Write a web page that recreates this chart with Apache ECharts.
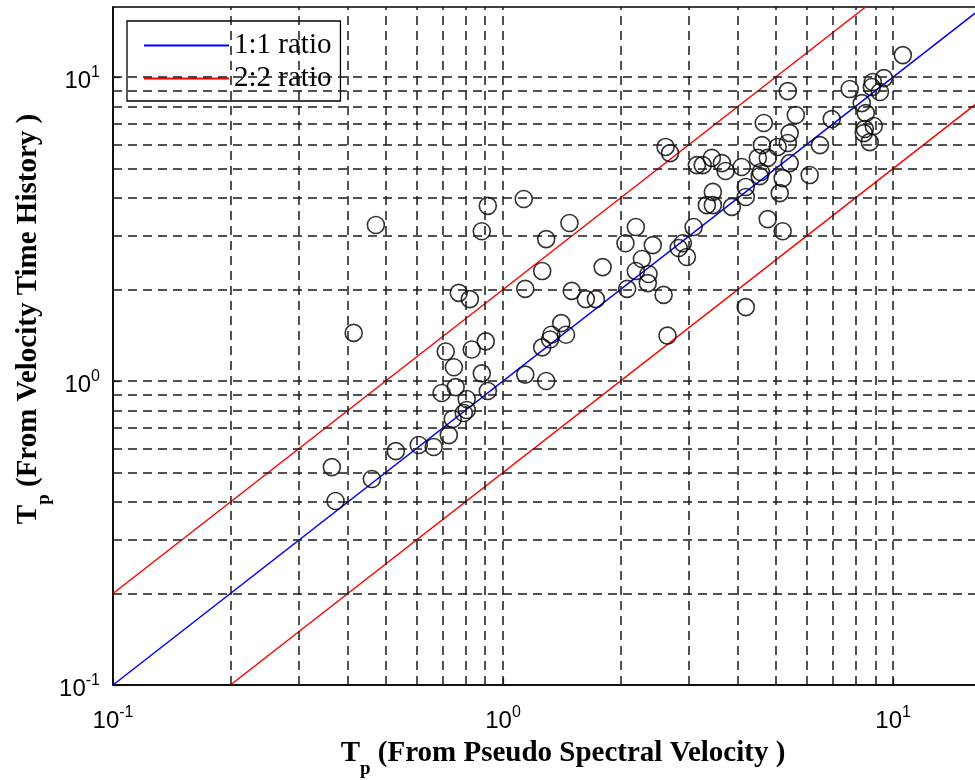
<!DOCTYPE html>
<html>
<head>
<meta charset="utf-8">
<title>Tp comparison</title>
<script src="https://cdn.jsdelivr.net/npm/echarts@6/dist/echarts.min.js"></script>
<style>
  html, body { margin: 0; padding: 0; background: #fff; }
  #chart { width: 975px; height: 780px; }
</style>
</head>
<body>
<div id="chart"></div>
<script>
// Peak period from the pseudo spectral velocity (x) and from the velocity time history (y)
const pseudoSpectralTp = [
  10.59, 9.47, 8.87, 8.82, 9.25, 7.74, 5.37, 8.31, 8.51, 5.63,
  6.96, 4.66, 8.92, 5.43, 8.46, 8.41, 8.71, 5.37, 4.61, 5.06,
  6.49, 2.61, 2.68, 3.43, 3.14, 3.25, 3.64, 3.72, 4.09, 4.50,
  4.77, 5.43, 4.58, 4.55, 6.11, 5.21, 4.19, 3.45, 5.12, 4.19,
  3.33, 3.45, 3.86, 4.77, 5.21, 3.08, 2.19, 2.06, 2.42, 2.89,
  2.82, 2.96, 2.27, 1.80, 2.19, 2.36, 2.35, 2.08, 2.58, 4.19,
  2.64, 0.914, 1.13, 0.472, 0.882, 1.48, 1.29, 1.26, 0.770, 0.822,
  1.14, 1.50, 1.63, 1.73, 0.414, 1.41, 1.33, 1.45, 1.32, 1.26,
  0.713, 0.831, 0.903, 0.748, 0.882, 1.14, 1.29, 0.756, 0.696, 0.914,
  0.807, 0.807, 0.793, 0.743, 0.726, 0.531, 0.608, 0.664, 0.364, 0.461,
  0.372
];
const velocityHistoryTp = [
  11.81, 9.92, 9.63, 9.27, 8.93, 9.13, 8.99, 8.21, 7.61, 7.50,
  7.27, 7.06, 6.90, 6.54, 6.75, 6.54, 6.11, 6.07, 5.97, 5.89,
  5.97, 5.89, 5.62, 5.42, 5.13, 5.13, 5.21, 4.91, 5.06, 5.42,
  5.42, 5.21, 4.87, 4.72, 4.76, 4.65, 4.35, 4.19, 4.15, 4.03,
  3.79, 3.79, 3.74, 3.41, 3.11, 3.21, 3.21, 2.84, 2.80, 2.84,
  2.74, 2.56, 2.52, 2.37, 2.30, 2.25, 2.10, 2.01, 1.92, 1.75,
  1.41, 3.77, 3.97, 3.26, 3.11, 3.31, 2.93, 2.30, 1.95, 1.86,
  2.01, 1.98, 1.86, 1.86, 1.44, 1.55, 1.42, 1.42, 1.37, 1.29,
  1.25, 1.27, 1.35, 1.11, 1.06, 1.05, 1.00, 0.955, 0.913, 0.927,
  0.873, 0.803, 0.785, 0.750, 0.664, 0.588, 0.616, 0.607, 0.521, 0.476,
  0.403
];

// Reference ratio lines (end points)
const oneToOneX = [0.1, 17];
const oneToOneY = [0.1, 17];
const upperRatioX = [0.1, 8.5];
const upperRatioY = [0.2, 17];
const lowerRatioX = [0.2, 17];
const lowerRatioY = [0.1, 8.5];

// Axis range, decade tick labels and dashed grid positions
const axisMin = 0.1;
const axisMax = 17;
const decadeTicks = [0.1, 1, 10];
const decadeExponents = ['-1', '0', '1'];
const gridValues = [0.2, 0.3, 0.4, 0.5, 0.6, 0.7, 0.8, 0.9, 1, 2, 3, 4, 5, 6, 7, 8, 9, 10];

const SANS = 'Liberation Sans, Arial, Helvetica, sans-serif';
const SERIF = 'Liberation Serif, Times New Roman, serif';

function zip(xs, ys) { return xs.map((x, i) => [x, ys[i]]); }

function decadeLabel(value) {
  for (let i = 0; i < decadeTicks.length; i++) {
    if (Math.abs(Math.log10(value) - Math.log10(decadeTicks[i])) < 1e-6) {
      return '{b|10}{e|' + decadeExponents[i] + '}';
    }
  }
  return '';
}

const powerRich = {
  b: { fontFamily: SANS, fontSize: 24, lineHeight: 24, color: '#000', verticalAlign: 'top', padding: [4, 0, 4, 0] },
  e: { fontFamily: SANS, fontSize: 16, lineHeight: 16, color: '#000', verticalAlign: 'top' }
};

const titleRich = {
  t: { fontFamily: SERIF, fontWeight: 'bold', fontSize: 29, lineHeight: 30, color: '#000', verticalAlign: 'top' },
  s: { fontFamily: SERIF, fontWeight: 'bold', fontSize: 19, lineHeight: 19, color: '#000', verticalAlign: 'top', padding: [21, 0, 0, 0] }
};

function logAxis(labelMargin) {
  return {
    type: 'log',
    logBase: 10,
    min: axisMin,
    max: axisMax,
    axisLine: { show: true, onZero: false, lineStyle: { color: '#000', width: 1.5 } },
    axisTick: { show: true, inside: true, length: 7, lineStyle: { color: '#000', width: 1.2 } },
    splitLine: { show: false },
    minorTick: { show: false },
    axisLabel: {
      formatter: decadeLabel,
      rich: powerRich,
      margin: labelMargin,
      showMinLabel: true,
      showMaxLabel: false
    }
  };
}

const chart = echarts.init(document.getElementById('chart'), null, { renderer: 'canvas' });

const dashed = { color: '#1a1a1a', width: 1.5, type: [9, 6] };

chart.setOption({
  animation: false,
  backgroundColor: '#fff',
  grid: {
    left: 113, top: 7, bottom: 95, right: -8,
    outerBoundsMode: 'none',
    show: true, borderColor: '#000', borderWidth: 1.5, backgroundColor: 'transparent'
  },
  xAxis: logAxis(20),
  yAxis: logAxis(13),
  legend: {
    left: 127, top: 21,
    orient: 'vertical',
    data: ['1:1 ratio', '2:2 ratio'],
    backgroundColor: '#fff',
    borderColor: '#000',
    borderWidth: 1.3,
    borderRadius: 0,
    padding: [10, 9, 8, 16],
    itemWidth: 85,
    itemHeight: 14,
    itemGap: 4,
    selectedMode: false,
    itemStyle: { opacity: 0 },
    textStyle: { fontFamily: SERIF, fontSize: 29, lineHeight: 29, color: '#000' }
  },
  graphic: [
    {
      type: 'text', x: 563, y: 754, silent: true,
      style: {
        text: '{t|T}{s|p}{t| (From Pseudo Spectral Velocity )}',
        rich: titleRich, align: 'center', verticalAlign: 'middle'
      }
    },
    {
      type: 'text', x: 29, y: 319, rotation: Math.PI / 2, silent: true,
      style: {
        text: '{t|T}{s|p}{t| (From Velocity Time History )}',
        rich: titleRich, align: 'center', verticalAlign: 'middle'
      }
    }
  ],
  series: [
    {
      name: '1:1 ratio',
      type: 'line',
      data: zip(oneToOneX, oneToOneY),
      symbol: 'none',
      itemStyle: { color: '#0000ff' },
      lineStyle: { color: '#0000ff', width: 1.5 },
      silent: true,
      z: 3,
      markLine: {
        silent: true,
        symbol: ['none', 'none'],
        label: { show: false },
        lineStyle: dashed,
        emphasis: { disabled: true },
        data: gridValues.map(v => ({ xAxis: v })).concat(gridValues.map(v => ({ yAxis: v })))
      }
    },
    {
      name: '2:2 ratio',
      type: 'line',
      data: zip(upperRatioX, upperRatioY),
      symbol: 'none',
      itemStyle: { color: '#ff0000' },
      lineStyle: { color: '#ff0000', width: 1.5 },
      silent: true,
      z: 3
    },
    {
      name: '2:2 ratio',
      type: 'line',
      data: zip(lowerRatioX, lowerRatioY),
      symbol: 'none',
      itemStyle: { color: '#ff0000' },
      lineStyle: { color: '#ff0000', width: 1.5 },
      silent: true,
      z: 3
    },
    {
      name: 'Tp',
      type: 'scatter',
      data: zip(pseudoSpectralTp, velocityHistoryTp),
      symbol: 'circle',
      symbolSize: 17,
      itemStyle: { color: 'rgba(0,0,0,0)', borderColor: '#000', borderWidth: 1.6 },
      emphasis: { disabled: true },
      silent: true,
      z: 4
    }
  ]
});
</script>
</body>
</html>
